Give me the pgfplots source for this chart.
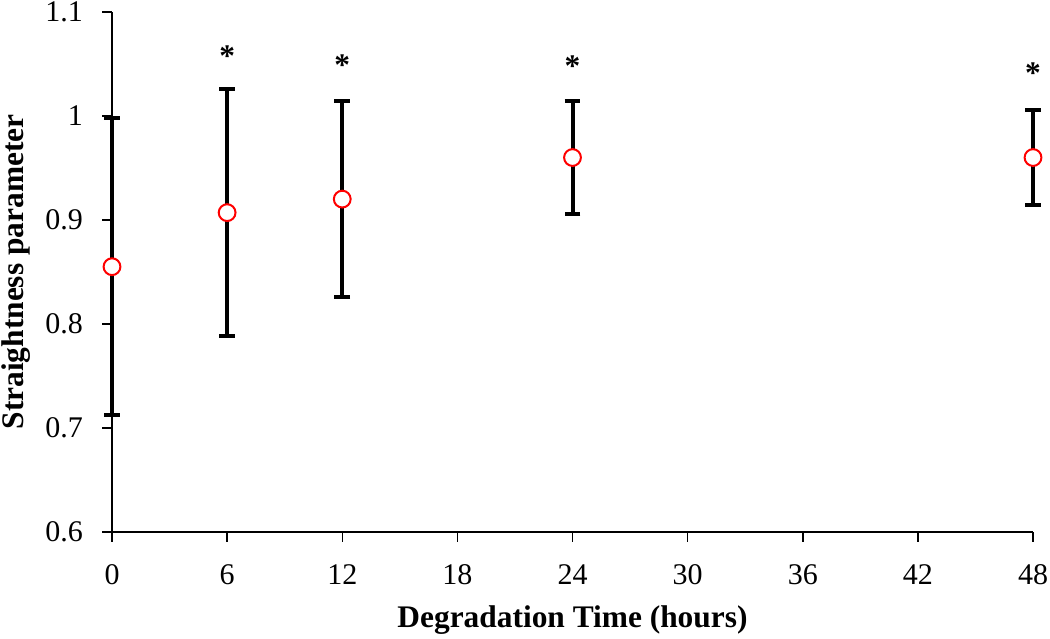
\documentclass[border=0pt]{standalone}
\usepackage{pgfplots}
\pgfplotsset{compat=1.18}
\usepackage{fontspec}
\setmainfont{Liberation Serif}
\pgfplotstableread{
x y e
0 0.855 0.143
6 0.907 0.119
12 0.920 0.094
24 0.960 0.054
48 0.960 0.046
}\datatable
\pgfplotstableread{
x y
6 1.058
12 1.049
24 1.048
48 1.041
}\startable
\begin{document}
\begin{tikzpicture}
\begin{axis}[
  scale only axis,
  width=460.5pt, height=259.9pt,
  xmin=0, xmax=48, ymin=0.6, ymax=1.1,
  axis lines*=left,
  axis line style={line width=0.75pt},
  tick style={line width=0.75pt, black},
  tick align=outside,
  major tick length=5pt,
  xtick={0,6,12,18,24,30,36,42,48},
  ytick={0.6,0.7,0.8,0.9,1,1.1},
  /pgf/number format/assume math mode=true,
  font=\fontsize{15}{18}\selectfont,
  ticklabel style={font=\fontsize{15}{18}\selectfont},
  xticklabel style={yshift=-8pt},
  yticklabel style={xshift=-6pt},
  xlabel={\textbf{Degradation Time (hours)}},
  ylabel={\textbf{Straightness parameter}},
  xlabel style={at={(axis description cs:0.5,0)}, anchor=center, yshift=-44pt, font=\fontsize{15.7}{18}\selectfont},
  ylabel style={at={(axis description cs:0,0.5)}, anchor=center, yshift=48pt, font=\fontsize{15.7}{18}\selectfont},
  clip=false,
]
\addplot[
  only marks, mark=none,
  error bars/.cd,
    y dir=both, y explicit,
    error bar style={line width=2pt, black},
    error mark options={rotate=90, mark size=3.9pt, line width=2pt, black},
] table[x=x, y=y, y error=e] {\datatable};
\addplot[
  only marks,
  mark=*,
  mark size=4.2pt,
  mark options={draw=red, fill=white, line width=1pt},
] table[x=x, y=y] {\datatable};
\addplot[
  draw=none, mark=none,
  nodes near coords={\textbf{*}},
  every node near coord/.style={anchor=center, font=\fontsize{15.7}{18}\selectfont},
] table[x=x, y=y] {\startable};
\coordinate (tl) at (rel axis cs:0,1);
\coordinate (br) at (rel axis cs:1,0);
\end{axis}
\pgfresetboundingbox
\path ([shift={(-56pt,6pt)}]tl) rectangle ([shift={(8.5pt,-53.15pt)}]br);
\end{tikzpicture}
\end{document}
